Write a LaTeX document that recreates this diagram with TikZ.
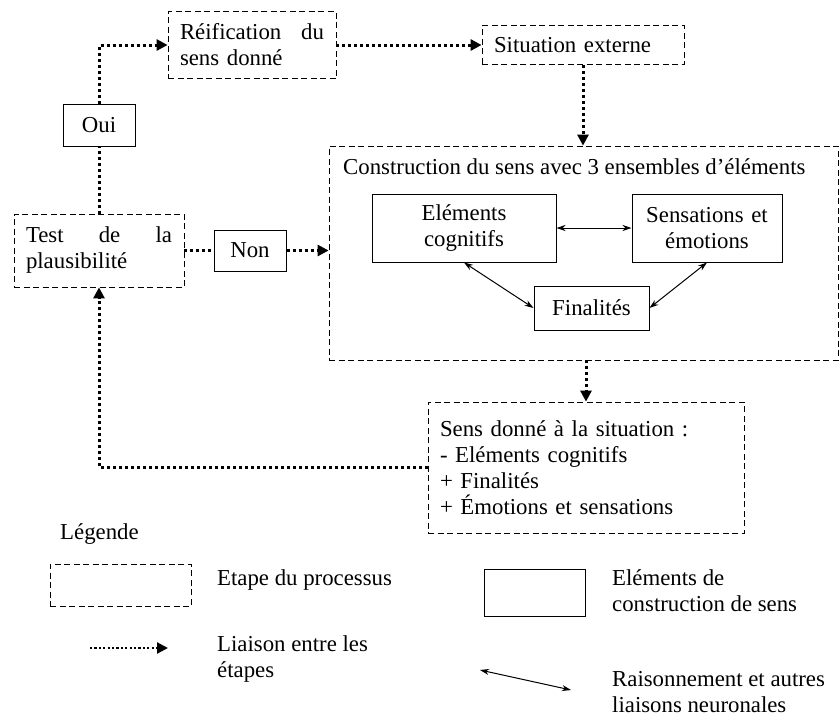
\documentclass[tikz,border=0pt]{standalone}
\usepackage{fontspec}
\setmainfont{Liberation Serif}
\usepackage{tikz}
\usetikzlibrary{arrows.meta}

\begin{document}
\begin{tikzpicture}[x=1pt, y=-1pt, font=\fontsize{22.8}{26}\selectfont,
	etape/.style={draw, line width=0.8pt, dash pattern=on 6pt off 3.5pt, inner xsep=12pt, inner ysep=0pt},
	element/.style={draw, line width=1pt, inner xsep=12pt, inner ysep=0pt},
	liaison/.style={line width=3pt, dash pattern=on 3pt off 3pt, -{Triangle[length=11pt,width=11pt]}},
	liaisonsimple/.style={line width=3pt, dash pattern=on 3pt off 3pt},
	raison/.style={line width=1pt, {Stealth[length=9pt,width=6pt]}-{Stealth[length=9pt,width=6pt]}}]
			%%%%% START %%%%%
			\useasboundingbox (0,0) rectangle (840,718);
			
			\node[etape, text width=144pt, align=left, minimum height=67pt] (reif) at (252, 45) {R\'eification \hfill du\\sens donn\'e};
			\node[etape, text width=178pt, align=left, minimum height=39pt] (situ) at (583, 45) {Situation externe};
			\node[element, minimum width=72pt, minimum height=42pt] (oui) at (99, 125) {Oui};
			\node[etape, text width=146pt, align=left, minimum height=73pt] (test) at (99, 250.5) {Test \hfill de \hfill la\\plausibilit\'e};
			\node[element, minimum width=72pt, minimum height=41pt] (non) at (250, 250.5) {Non};
			
			\node[etape, minimum width=509pt, minimum height=214pt] (constr) at (583.5, 253) {};
			\node[anchor=west, inner sep=0pt] (titre) at (343, 167) {Construction du sens avec 3 ensembles d’\'el\'ements};
			\node[element, text width=160pt, align=center, minimum height=68pt] (cogn) at (464, 228) {El\'ements\\cognitifs};
			\node[element, text width=126pt, align=center, minimum height=68pt] (sens) at (707, 228) {Sensations et\\\'emotions};
			\node[element, minimum width=115pt, minimum height=44pt] (fin) at (591.5, 308) {Finalit\'es};
			
			\node[etape, text width=292pt, align=left, minimum height=131pt] (donne) at (586, 467.5) {Sens donn\'e \`a la situation :\\- El\'ements cognitifs\\+ Finalit\'es\\+ \'Emotions et sensations};
			
			\draw[liaisonsimple] (test.north) -- (oui.south);
			\draw[liaison] (oui.north) |- (reif.west);
			\draw[liaison] (reif.east) -- (situ.west);
			\draw[liaison] (situ.south) -- (situ.south |- constr.north);
			\draw[liaisonsimple] (test.east) -- (non.west);
			\draw[liaison] (non.east) -- (non.east -| constr.west);
			\draw[liaison] (constr.south -| donne.north) -- (donne.north);
			\draw[liaison] (donne.west) -| (test.south);
			
			\draw[raison] (cogn.east) -- (sens.west);
			\draw[raison] (cogn.south) -- (fin.west);
			\draw[raison] (sens.south) -- (fin.east);
			
			% legende
			\node[anchor=west, inner sep=0pt] (legende) at (60, 534) {L\'egende};
			\node[etape, minimum width=141pt, minimum height=42pt] (legetape) at (120.5, 585) {};
			\node[anchor=west, inner sep=0pt] (txtetape) at (217, 580) {Etape du processus};
			\node[element, minimum width=101pt, minimum height=47pt] (legelement) at (534.5, 592.5) {};
			\node[anchor=west, inner sep=0pt, align=left] (txtelement) at (612, 591) {El\'ements de\\construction de sens};
			\coordinate (liaisonA) at (90, 648);
			\coordinate (liaisonB) at (168, 648);
			\draw[liaison, line width=2.2pt, dash pattern=on 2.2pt off 2.2pt] (liaisonA) -- (liaisonB);
			\node[anchor=west, inner sep=0pt, align=left] (txtliaison) at (217, 659) {Liaison entre les\\\'etapes};
			\coordinate (raisonA) at (480, 670);
			\coordinate (raisonB) at (571, 690);
			\draw[raison] (raisonA) -- (raisonB);
			\node[anchor=west, inner sep=0pt, align=left] (txtraison) at (612, 692) {Raisonnement et autres\\liaisons neuronales};
			
			%%%%% END %%%%%
\end{tikzpicture}
\end{document}
